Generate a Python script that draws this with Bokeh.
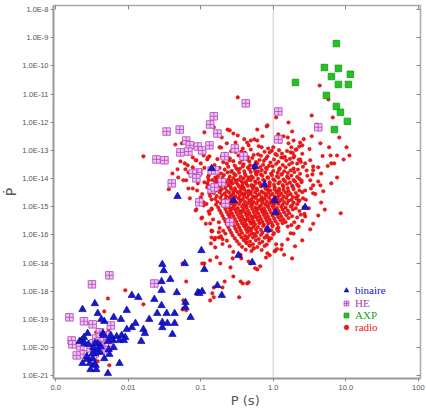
import numpy as np
from bokeh.plotting import figure
from bokeh.models import (FixedTicker, LogAxis, Span, Legend, LegendItem,
                          ColumnDataSource, Range1d, CustomJSTickFormatter)
from bokeh.embed import file_html
from bokeh.resources import INLINE

# ---------------- data: (log10 P [s], log10 Pdot) ----------------
axp_pts = [(0.87, -9.21), (0.705, -10.06), (0.898, -10.09), (1.063, -10.30), (0.802, -10.38),
           (0.306, -10.59), (0.898, -10.66), (1.036, -10.66), (0.733, -11.05), (0.870, -11.44),
           (0.926, -11.65), (1.022, -11.97), (0.843, -12.26)]

he_pts = [(-1.47, -12.33), (-1.29, -12.26), (-1.20, -12.65), (-1.15, -12.82), (-1.28, -13.07),
          (-1.17, -13.04), (-1.04, -12.86), (-0.98, -13.00), (-0.88, -12.82), (-0.87, -12.08),
          (-0.82, -11.79), (-1.61, -13.32), (-1.50, -13.35), (-1.04, -13.78), (-1.11, -13.82),
          (-1.40, -14.17), (-1.02, -14.84), (-0.85, -13.71), (-0.77, -12.40), (-0.53, -12.93),
          (-0.41, -13.21), (-1.06, -13.99), (-0.71, -14.13), (-0.85, -14.38), (-0.66, -14.88),
          (-0.60, -15.55), (0.07, -11.62), (0.07, -12.61), (-0.38, -11.33), (0.62, -12.18),
          (-0.81, -14.31), (-0.67, -13.21), (-0.80, -13.71),
          (-2.26, -17.43), (-2.50, -17.75), (-1.64, -17.72), (-2.81, -18.92), (-2.61, -19.06),
          (-2.49, -19.17), (-2.24, -19.21), (-2.78, -19.74), (-2.77, -19.88), (-2.71, -20.27),
          (-2.66, -19.95), (-2.61, -20.23), (-2.52, -20.02), (-2.48, -19.84), (-2.39, -19.45),
          (-2.44, -19.67), (-2.38, -19.77), (-2.31, -19.70), (-2.28, -19.84), (-2.35, -20.06),
          (-2.46, -20.20), (-2.49, -20.41), (-2.30, -19.56), (-2.27, -19.95), (-2.39, -19.63)]

binaire_pts = [(-1.32, -14.63), (-0.85, -13.64), (-0.25, -13.57), (-0.12, -14.21), (0.02, -14.77),
               (0.03, -15.20), (-0.08, -15.80), (-0.55, -14.77), (0.44, -15.02), (-0.48, -16.72),
               (-0.29, -16.97), (-0.77, -17.79), (-0.71, -18.14), (-0.99, -16.55), (-1.22, -17.01),
               (-0.95, -17.22), (-1.04, -18.04), (-1.02, -18.07), (-0.98, -18.00), (-1.21, -18.39),
               (-1.21, -18.57), (-1.14, -18.92), (-1.53, -17.04), (-1.51, -17.26), (-1.42, -17.57),
               (-1.54, -17.65), (-1.54, -17.96), (-1.33, -18.04), (-1.64, -18.28), (-1.54, -18.50),
               (-1.47, -18.78), (-1.36, -18.78), (-1.60, -18.78), (-1.71, -18.99), (-1.53, -19.10),
               (-1.46, -19.13), (-1.36, -19.13), (-1.53, -19.28), (-1.39, -19.52), (-1.95, -18.14),
               (-1.86, -18.21), (-2.02, -18.67), (-2.20, -18.92), (-2.10, -18.99), (-2.02, -19.35),
               (-1.95, -19.28), (-1.82, -19.77), (-1.79, -19.35), (-1.77, -19.49), (-1.90, -19.13),
               (-2.46, -18.43), (-2.63, -18.64), (-2.42, -18.78), (-2.33, -19.06), (-2.37, -18.99),
               (-2.56, -19.49), (-2.64, -19.74), (-2.67, -19.77), (-2.61, -19.63), (-2.48, -19.99),
               (-2.46, -20.59), (-2.52, -20.77), (-2.28, -20.91), (-2.12, -20.55), (-2.33, -20.38),
               (-2.26, -20.23), (-2.21, -19.74), (-2.16, -19.60), (-2.09, -19.56), (-2.04, -19.63),
               (-2.35, -19.49), (-2.34, -19.56), (-2.23, -19.70), (-2.28, -19.77), (-2.38, -19.95),
               (-2.42, -20.06), (-2.39, -20.16), (-2.27, -20.06), (-2.20, -19.99), (-2.12, -19.74),
               (-2.46, -20.20), (-2.49, -20.38), (-2.57, -20.41), (-2.53, -20.55), (-2.45, -20.62),
               (-2.63, -20.55), (-2.44, -20.77), (-2.60, -19.84), (-2.55, -19.88), (-2.42, -19.84),
               (-2.46, -19.84), (-2.57, -20.31), (-2.49, -20.20), (-2.24, -19.56), (-2.06, -19.74)]

radio_pts = [
    # scattered, low left and middle
    (-2.04, -17.96), (-2.28, -18.25), (-1.79, -18.46), (-2.33, -18.71), (-2.57, -19.13),
    (-2.27, -19.35), (-2.42, -20.20), (-2.44, -19.45), (-2.26, -20.62), (-1.54, -19.13),
    (-1.24, -18.60), (-1.25, -17.01), (-1.20, -17.65), (-1.24, -18.32), (-1.06, -15.09),
    (-0.99, -15.41), (-0.85, -15.84), (-0.85, -16.09), (-0.84, -18.07), (-0.82, -18.21),
    (-0.95, -17.01), (-0.85, -15.06), (-0.89, -15.16), (-1.25, -18.64), (-2.71, -19.95),
    (-2.46, -20.26), (-2.42, -20.48), (-1.20, -18.67), (-0.87, -18.32), (-0.47, -18.21),
    (-0.82, -17.86), (-0.70, -17.86), (-0.55, -17.47), (-0.45, -17.65), (-0.36, -17.72),
    (-0.67, -17.65), (-0.87, -16.90), (-0.98, -17.01), (-0.85, -15.87), (-0.98, -15.38),
    (-0.96, -14.95), (-0.81, -16.16), (-0.80, -16.44), (-0.78, -16.79), (-0.73, -17.01),
    (-0.59, -17.15), (-0.56, -16.83), (-0.44, -16.83), (-0.34, -16.94), (-0.22, -17.22),
    (-0.18, -17.11), (-0.08, -16.65), (-0.07, -16.09), (0.03, -16.55), (0.93, -15.23),
    (0.62, -15.31), (0.51, -15.80), (0.40, -16.19), (0.26, -16.83), (0.35, -15.70),
    (0.44, -15.34), (0.24, -15.94), (0.20, -15.70), (0.07, -15.87), (0.11, -16.51),
    (-0.34, -17.68), (-0.42, -17.72), (-0.31, -17.01), (-0.25, -17.18), (-0.05, -16.72),
    (0.02, -16.58), (0.04, -16.33),
    # scattered, upper right
    (-0.49, -11.12), (0.64, -10.70), (0.76, -11.19), (0.53, -11.76), (0.21, -12.01),
    (-0.09, -12.15), (-0.22, -12.26), (0.04, -11.83), (0.26, -12.33), (0.82, -11.83),
    (0.53, -12.50), (0.65, -12.75), (0.77, -12.89), (1.01, -12.89), (0.88, -13.18),
    (0.79, -13.18), (0.80, -13.46), (1.05, -13.18), (0.97, -13.32), (0.84, -13.46),
    (0.88, -13.96), (0.80, -14.17), (0.69, -14.45), (0.62, -13.60), (0.55, -13.57),
    (0.44, -13.46), (0.51, -13.35), (0.37, -12.72), (0.36, -12.86), (0.32, -12.96),
    (0.25, -12.89), (0.24, -13.07), (0.20, -12.54), (0.14, -12.50), (0.07, -12.43),
    (0.21, -12.75), (0.28, -12.65), (-0.15, -12.50), (-0.26, -12.61), (-0.31, -12.65),
    (-0.34, -12.82), (-0.42, -12.93), (-0.49, -12.47), (-0.55, -12.40), (-0.63, -12.26),
    (-0.71, -12.54), (-0.74, -12.89), (-0.64, -12.75), (-0.52, -12.72), (-0.16, -12.89),
    (-0.07, -12.93), (0.00, -12.89), (0.28, -13.25), (0.37, -13.32), (0.46, -13.71),
    (0.54, -13.85), (0.66, -13.82), (0.51, -14.06), (0.39, -14.13), (0.55, -14.24),
    (0.65, -14.24), (0.44, -14.42), (0.55, -14.52), (0.32, -14.67), (0.36, -14.77),
    (0.91, -12.54), (0.60, -12.08), (0.40, -12.82),
    # scattered, upper left
    (-1.79, -13.21), (-1.35, -12.79), (-1.26, -12.75), (-0.95, -12.36), (-1.44, -14.38),
    (-1.20, -14.06), (-1.18, -13.53), (-1.11, -13.25), (-1.06, -13.35), (-1.00, -13.46),
    (-0.96, -13.18), (-0.91, -13.32), (-0.88, -13.21), (-1.28, -13.39), (-1.21, -13.67),
    (-1.17, -13.78), (-1.00, -13.82), (-0.95, -14.13), (-0.91, -14.31), (-0.88, -14.52),
    (-1.00, -14.67), (-0.96, -14.84), (-0.85, -14.74), (-1.11, -14.35), (-0.89, -14.06),
    (-1.39, -13.82), (-0.82, -12.18), (-0.60, -12.29), (-0.36, -12.72), (-0.22, -12.65),
    (-0.08, -12.11), (-1.32, -13.67), (-1.31, -13.96), (-1.22, -13.46), (-1.07, -13.35),
    (-1.07, -15.13), (-0.87, -15.59), (-0.84, -15.87), (-0.75, -16.09), (-0.75, -15.55),
    (-0.89, -13.89), (-0.80, -13.96), (-0.77, -14.13), (-0.73, -14.42), (-0.91, -14.17),
    (-1.04, -14.17), (-1.24, -14.06), (-1.17, -14.35), (-1.00, -13.71), (-1.11, -13.60),
    # halo around the main cloud
    (-0.95, -13.62), (-0.90, -14.25), (-0.98, -14.55), (-0.92, -14.90), (-1.05, -14.42),
    (-0.88, -15.25), (-0.93, -15.60), (-0.86, -16.30), (-0.90, -13.95), (-1.12, -13.88),
    (-1.15, -14.70), (-0.84, -14.05), (-0.87, -14.62), (-0.85, -15.10), (-0.83, -15.45),
    (0.47, -13.90), (0.52, -14.35), (0.45, -14.75), (0.58, -14.55), (0.49, -15.05),
    (0.43, -15.25), (0.62, -14.10), (0.55, -13.70), (0.66, -14.85), (0.71, -15.10),
    (0.40, -15.50), (0.33, -15.75), (0.28, -15.95), (0.20, -16.15), (0.12, -16.35),
    (0.05, -16.50), (-0.60, -16.40), (-0.55, -16.60), (-0.70, -16.15), (-0.75, -15.90),
    (0.75, -13.55), (0.68, -13.20), (0.50, -12.95), (0.42, -12.60), (-0.72, -12.90),
    (-0.90, -13.25), (-1.00, -13.05), (-0.20, -12.85), (0.10, -12.70), (-0.40, -12.60),
    (0.30, -16.40), (0.15, -16.70), (-0.10, -16.80), (-0.45, -16.70), (0.55, -15.60),
    (0.36, -15.15), (0.42, -15.02), (0.33, -15.38), (0.38, -15.28), (0.29, -15.55),
    (0.25, -15.65), (-0.66, -15.95), (-0.72, -16.05), (-0.64, -16.20), (-0.80, -16.10),
    (-0.69, -15.85), (-0.74, -15.75), (-0.70, -16.32),
    # dense core
    (-0.58, -13.03), (-0.31, -12.97), (-0.12, -13.05), (0.08, -12.99), (0.19, -13.02),
    (-0.44, -13.04), (0.31, -12.98), (-0.02, -13.01),
    (-0.66, -13.12), (-0.39, -13.08), (-0.21, -13.14), (-0.05, -13.07), (0.12, -13.11),
    (0.27, -13.09), (-0.52, -13.06), (0.03, -13.13), (0.40, -13.12),
    (-0.71, -13.22), (-0.48, -13.18), (-0.35, -13.24), (-0.17, -13.19), (-0.08, -13.21),
    (0.05, -13.17), (0.16, -13.23), (0.29, -13.20), (-0.27, -13.16), (0.11, -13.25),
    (-0.77, -13.31), (-0.60, -13.28), (-0.43, -13.33), (-0.29, -13.27), (-0.19, -13.34),
    (-0.10, -13.29), (0.01, -13.32), (0.14, -13.26), (0.23, -13.30), (0.35, -13.33),
    (-0.36, -13.31),
    (-0.69, -13.42), (-0.55, -13.38), (-0.46, -13.44), (-0.33, -13.39), (-0.24, -13.41),
    (-0.13, -13.37), (-0.04, -13.43), (0.07, -13.40), (0.18, -13.36), (0.26, -13.44),
    (0.38, -13.41), (-0.60, -13.36),
    (-0.81, -13.52), (-0.64, -13.47), (-0.53, -13.54), (-0.41, -13.49), (-0.32, -13.53),
    (-0.22, -13.46), (-0.14, -13.51), (-0.06, -13.55), (0.04, -13.48), (0.13, -13.52),
    (0.22, -13.50), (0.33, -13.47), (-0.27, -13.55),
    (-0.74, -13.62), (-0.62, -13.58), (-0.51, -13.63), (-0.42, -13.57), (-0.35, -13.61),
    (-0.26, -13.64), (-0.18, -13.59), (-0.10, -13.62), (-0.01, -13.56), (0.09, -13.63),
    (0.17, -13.60), (0.28, -13.64), (0.41, -13.58), (-0.46, -13.65),
    (-0.79, -13.71), (-0.67, -13.68), (-0.57, -13.73), (-0.49, -13.69), (-0.40, -13.74),
    (-0.33, -13.67), (-0.25, -13.72), (-0.16, -13.70), (-0.09, -13.66), (0.00, -13.73),
    (0.08, -13.69), (0.15, -13.74), (0.24, -13.71), (0.34, -13.68), (-0.21, -13.75),
    (-0.72, -13.82), (-0.63, -13.78), (-0.54, -13.83), (-0.47, -13.79), (-0.39, -13.84),
    (-0.31, -13.77), (-0.24, -13.81), (-0.17, -13.85), (-0.11, -13.78), (-0.03, -13.82),
    (0.06, -13.79), (0.12, -13.84), (0.20, -13.80), (0.29, -13.77), (0.37, -13.83),
    (-0.58, -13.76),
    (-0.76, -13.91), (-0.68, -13.87), (-0.60, -13.93), (-0.52, -13.88), (-0.45, -13.94),
    (-0.38, -13.89), (-0.30, -13.92), (-0.23, -13.86), (-0.15, -13.90), (-0.08, -13.95),
    (-0.02, -13.88), (0.05, -13.92), (0.11, -13.86), (0.19, -13.93), (0.25, -13.89),
    (0.33, -13.94), (-0.34, -13.96),
    (-0.78, -14.02), (-0.70, -13.97), (-0.62, -14.03), (-0.55, -13.98), (-0.48, -14.04),
    (-0.41, -13.99), (-0.35, -14.05), (-0.28, -13.97), (-0.21, -14.01), (-0.14, -14.04),
    (-0.07, -13.98), (0.00, -14.02), (0.07, -13.96), (0.14, -14.03), (0.21, -13.99),
    (0.28, -14.05), (0.36, -14.01), (-0.52, -14.06),
    (-0.80, -14.11), (-0.72, -14.07), (-0.65, -14.13), (-0.58, -14.08), (-0.51, -14.14),
    (-0.44, -14.09), (-0.38, -14.12), (-0.31, -14.06), (-0.25, -14.10), (-0.19, -14.15),
    (-0.12, -14.08), (-0.05, -14.13), (0.02, -14.07), (0.09, -14.12), (0.16, -14.09),
    (0.23, -14.14), (0.30, -14.10), (0.39, -14.07), (-0.42, -14.16),
    (-0.77, -14.22), (-0.69, -14.18), (-0.62, -14.24), (-0.56, -14.17), (-0.49, -14.21),
    (-0.43, -14.25), (-0.37, -14.19), (-0.30, -14.23), (-0.24, -14.16), (-0.18, -14.20),
    (-0.11, -14.24), (-0.05, -14.18), (0.01, -14.22), (0.07, -14.17), (0.13, -14.23),
    (0.19, -14.19), (0.26, -14.25), (0.33, -14.21), (-0.27, -14.26), (-0.60, -14.15),
    (-0.81, -14.31), (-0.73, -14.27), (-0.66, -14.33), (-0.59, -14.28), (-0.53, -14.34),
    (-0.47, -14.29), (-0.41, -14.32), (-0.35, -14.26), (-0.29, -14.30), (-0.23, -14.35),
    (-0.17, -14.28), (-0.11, -14.33), (-0.05, -14.27), (0.02, -14.31), (0.08, -14.36),
    (0.14, -14.29), (0.20, -14.34), (0.27, -14.30), (0.35, -14.27), (-0.44, -14.36),
    (-0.08, -14.37),
    (-0.79, -14.42), (-0.71, -14.38), (-0.64, -14.44), (-0.58, -14.37), (-0.52, -14.41),
    (-0.46, -14.45), (-0.40, -14.39), (-0.34, -14.43), (-0.28, -14.37), (-0.22, -14.41),
    (-0.16, -14.46), (-0.10, -14.38), (-0.04, -14.42), (0.02, -14.39), (0.08, -14.44),
    (0.14, -14.40), (0.21, -14.45), (0.28, -14.38), (0.36, -14.42), (-0.31, -14.47),
    (-0.55, -14.47), (0.05, -14.47),
    (-0.82, -14.51), (-0.74, -14.48), (-0.67, -14.53), (-0.61, -14.49), (-0.55, -14.54),
    (-0.49, -14.50), (-0.43, -14.52), (-0.37, -14.48), (-0.31, -14.53), (-0.25, -14.49),
    (-0.19, -14.55), (-0.13, -14.51), (-0.07, -14.48), (-0.01, -14.54), (0.05, -14.50),
    (0.11, -14.53), (0.17, -14.49), (0.24, -14.55), (0.31, -14.51), (0.40, -14.48),
    (-0.40, -14.56), (-0.10, -14.57),
    (-0.78, -14.62), (-0.71, -14.58), (-0.65, -14.63), (-0.58, -14.59), (-0.52, -14.64),
    (-0.46, -14.60), (-0.40, -14.62), (-0.34, -14.58), (-0.28, -14.63), (-0.22, -14.59),
    (-0.16, -14.65), (-0.10, -14.61), (-0.04, -14.58), (0.02, -14.64), (0.08, -14.60),
    (0.14, -14.63), (0.20, -14.59), (0.27, -14.65), (0.34, -14.61), (-0.60, -14.66),
    (-0.25, -14.67), (0.05, -14.67),
    (-0.80, -14.72), (-0.73, -14.68), (-0.66, -14.73), (-0.60, -14.69), (-0.54, -14.74),
    (-0.48, -14.70), (-0.42, -14.72), (-0.36, -14.68), (-0.30, -14.73), (-0.24, -14.69),
    (-0.18, -14.75), (-0.12, -14.71), (-0.06, -14.68), (0.00, -14.74), (0.06, -14.70),
    (0.12, -14.73), (0.18, -14.69), (0.25, -14.75), (0.32, -14.71), (0.41, -14.70),
    (-0.45, -14.77), (-0.15, -14.77),
    (-0.77, -14.82), (-0.70, -14.78), (-0.63, -14.83), (-0.57, -14.79), (-0.51, -14.84),
    (-0.45, -14.80), (-0.39, -14.82), (-0.33, -14.78), (-0.27, -14.83), (-0.21, -14.79),
    (-0.15, -14.85), (-0.09, -14.81), (-0.03, -14.78), (0.03, -14.84), (0.09, -14.80),
    (0.15, -14.83), (0.21, -14.79), (0.28, -14.85), (0.35, -14.81), (-0.55, -14.87),
    (-0.30, -14.87), (0.00, -14.88),
    (-0.79, -14.92), (-0.72, -14.88), (-0.65, -14.93), (-0.59, -14.89), (-0.53, -14.94),
    (-0.47, -14.90), (-0.41, -14.92), (-0.35, -14.88), (-0.29, -14.93), (-0.23, -14.89),
    (-0.17, -14.95), (-0.11, -14.91), (-0.05, -14.88), (0.01, -14.94), (0.07, -14.90),
    (0.13, -14.93), (0.19, -14.89), (0.26, -14.95), (0.33, -14.91), (-0.38, -14.97),
    (-0.08, -14.97),
    (-0.76, -15.02), (-0.68, -14.98), (-0.61, -15.03), (-0.55, -14.99), (-0.49, -15.04),
    (-0.43, -15.00), (-0.37, -15.02), (-0.31, -14.98), (-0.25, -15.03), (-0.19, -14.99),
    (-0.13, -15.05), (-0.07, -15.01), (-0.01, -14.98), (0.05, -15.04), (0.11, -15.00),
    (0.17, -15.03), (0.24, -14.99), (0.31, -15.05), (-0.58, -15.07), (-0.22, -15.07),
    (-0.74, -15.12), (-0.66, -15.08), (-0.59, -15.13), (-0.53, -15.09), (-0.47, -15.14),
    (-0.41, -15.10), (-0.35, -15.12), (-0.29, -15.08), (-0.23, -15.13), (-0.17, -15.09),
    (-0.11, -15.15), (-0.05, -15.11), (0.01, -15.08), (0.07, -15.14), (0.13, -15.10),
    (0.20, -15.13), (0.27, -15.09), (-0.44, -15.17), (-0.14, -15.17),
    (-0.72, -15.22), (-0.64, -15.18), (-0.57, -15.23), (-0.51, -15.19), (-0.45, -15.24),
    (-0.39, -15.20), (-0.33, -15.22), (-0.27, -15.18), (-0.21, -15.23), (-0.15, -15.19),
    (-0.09, -15.25), (-0.03, -15.21), (0.03, -15.18), (0.09, -15.24), (0.15, -15.20),
    (0.22, -15.23), (-0.36, -15.27), (-0.60, -15.27),
    (-0.70, -15.32), (-0.62, -15.28), (-0.55, -15.33), (-0.49, -15.29), (-0.43, -15.34),
    (-0.37, -15.30), (-0.31, -15.32), (-0.25, -15.28), (-0.19, -15.33), (-0.13, -15.29),
    (-0.07, -15.35), (-0.01, -15.31), (0.05, -15.28), (0.11, -15.34), (0.18, -15.30),
    (0.26, -15.33), (-0.28, -15.37),
    (-0.68, -15.42), (-0.60, -15.38), (-0.53, -15.43), (-0.47, -15.39), (-0.41, -15.44),
    (-0.35, -15.40), (-0.29, -15.42), (-0.23, -15.38), (-0.17, -15.43), (-0.11, -15.39),
    (-0.05, -15.45), (0.01, -15.41), (0.07, -15.38), (0.14, -15.44), (0.21, -15.40),
    (-0.38, -15.47),
    (-0.66, -15.52), (-0.58, -15.48), (-0.51, -15.53), (-0.45, -15.49), (-0.39, -15.54),
    (-0.33, -15.50), (-0.27, -15.52), (-0.21, -15.48), (-0.15, -15.53), (-0.09, -15.49),
    (-0.03, -15.55), (0.03, -15.51), (0.10, -15.48), (0.17, -15.54), (-0.30, -15.57),
    (-0.64, -15.62), (-0.56, -15.58), (-0.49, -15.63), (-0.43, -15.59), (-0.37, -15.64),
    (-0.31, -15.60), (-0.25, -15.62), (-0.19, -15.58), (-0.13, -15.63), (-0.07, -15.59),
    (-0.01, -15.65), (0.06, -15.61), (0.13, -15.58), (-0.40, -15.67),
    (-0.62, -15.72), (-0.54, -15.68), (-0.47, -15.73), (-0.40, -15.69), (-0.34, -15.74),
    (-0.27, -15.70), (-0.21, -15.72), (-0.14, -15.68), (-0.08, -15.73), (-0.01, -15.69),
    (0.07, -15.74), (-0.30, -15.77),
    (-0.60, -15.82), (-0.52, -15.78), (-0.45, -15.83), (-0.38, -15.79), (-0.31, -15.84),
    (-0.24, -15.80), (-0.17, -15.82), (-0.10, -15.78), (-0.03, -15.83), (0.05, -15.79),
    (-0.35, -15.87),
    (-0.58, -15.92), (-0.50, -15.88), (-0.43, -15.93), (-0.36, -15.89), (-0.29, -15.94),
    (-0.22, -15.90), (-0.15, -15.92), (-0.07, -15.88), (0.01, -15.93), (-0.26, -15.97),
    (-0.56, -16.02), (-0.47, -15.98), (-0.39, -16.03), (-0.32, -15.99), (-0.24, -16.04),
    (-0.17, -16.00), (-0.09, -16.02), (0.00, -15.98), (-0.35, -16.07),
    (-0.53, -16.12), (-0.44, -16.08), (-0.36, -16.13), (-0.28, -16.09), (-0.20, -16.14),
    (-0.12, -16.10), (-0.03, -16.12), (-0.40, -16.17),
    (-0.50, -16.22), (-0.41, -16.18), (-0.32, -16.23), (-0.24, -16.19), (-0.15, -16.24),
    (-0.06, -16.20), (-0.37, -16.27),
    (-0.47, -16.32), (-0.37, -16.28), (-0.28, -16.33), (-0.19, -16.29), (-0.09, -16.34),
    (-0.33, -16.37),
    (-0.43, -16.42), (-0.32, -16.38), (-0.22, -16.43), (-0.12, -16.39), (-0.27, -16.47),
    (-0.38, -16.52), (-0.27, -16.48), (-0.16, -16.53), (-0.30, -16.57),
]

# tick labels keyed by decade exponent
x_ticks = [1e-3, 1e-2, 1e-1, 1.0, 10.0, 100.0]
x_tick_labels = {"-3": "0.0", "-2": "0.01", "-1": "0.1", "0": "1.0", "1": "10.0", "2": "100"}
y_ticks = [10.0 ** e for e in range(-21, -7)]
y_tick_labels = {"-21": "1.0E-21", "-20": "1.0E-20", "-19": "1.0E-19", "-18": "1.0E-18",
                 "-17": "1.0E-18", "-16": "1.0E-16", "-15": "1.0E-15", "-14": "1.0E-14",
                 "-13": "1.0E-13", "-12": "1.0E-12", "-11": "1.0E-11", "-10": "1.0E-10",
                 "-9": "1.0E-9", "-8": "1.0E-8"}


def src(pts):
    a = np.array(pts, dtype=float)
    return ColumnDataSource(dict(P=10.0 ** a[:, 0], Pdot=10.0 ** a[:, 1]))


def fmt(labels):
    return CustomJSTickFormatter(args=dict(labels=labels), code="""
        const e = String(Math.round(Math.log10(tick)));
        const v = (labels instanceof Map) ? labels.get(e) : labels[e];
        return v == null ? "" : v;
    """)


TICK_FONT = "Liberation Sans"

p = figure(width=426, height=412, x_axis_type="log", y_axis_type="log",
           x_range=Range1d(10 ** -3.03, 10 ** 2.03), y_range=Range1d(10 ** -21.09, 10 ** -7.86),
           output_backend="svg", toolbar_location=None,
           min_border_left=53, min_border_right=6, min_border_top=5, min_border_bottom=34)
p.xgrid.visible = False
p.ygrid.visible = False
p.outline_line_color = None
p.background_fill_color = "white"

for ax, ticks, labels in ((p.xaxis[0], x_ticks, x_tick_labels), (p.yaxis[0], y_ticks, y_tick_labels)):
    ax.ticker = FixedTicker(ticks=ticks, minor_ticks=[])
    ax.formatter = fmt(labels)
    ax.axis_line_color = "#999999"
    ax.axis_line_width = 2
    ax.major_tick_line_color = "#888888"
    ax.major_tick_in = 0
    ax.major_tick_out = 3
    ax.minor_tick_line_color = None
    ax.major_label_text_font = TICK_FONT
    ax.major_label_text_font_size = "7.5px"
    ax.major_label_text_color = "#555555"
    ax.major_label_standoff = 3

p.yaxis[0].major_label_standoff = 2
p.yaxis[0].axis_label = "\u1E56"
p.yaxis[0].axis_label_text_font = "DejaVu Sans"
p.yaxis[0].axis_label_text_font_size = "14px"
p.yaxis[0].axis_label_text_font_style = "normal"
p.yaxis[0].axis_label_text_color = "#555555"
p.yaxis[0].axis_label_standoff = 0

p.xaxis[0].axis_label = "\u00a0\u00a0\u00a0\u00a0P (s)"
p.xaxis[0].axis_label_text_font = "DejaVu Sans"
p.xaxis[0].axis_label_text_font_size = "13px"
p.xaxis[0].axis_label_text_font_style = "normal"
p.xaxis[0].axis_label_text_color = "#555555"
p.xaxis[0].axis_label_standoff = 0

for side, ticks in (("above", x_ticks), ("right", y_ticks)):
    ax = LogAxis(ticker=FixedTicker(ticks=ticks, minor_ticks=[]),
                 major_tick_in=4, major_tick_out=0, minor_tick_line_color=None,
                 major_label_text_font_size="1px", major_label_text_alpha=0,
                 major_label_standoff=0,
                 axis_line_color="#aaaaaa", axis_line_width=1.5,
                 major_tick_line_color="#888888")
    p.add_layout(ax, side)

p.add_layout(Span(location=1.0, dimension="height", line_color="#dddddd",
                  line_width=1.5, level="underlay"))

r_radio = p.scatter("P", "Pdot", source=src(radio_pts), marker="circle", size=3.6,
                    fill_color="#ee1a1a", line_color="#d00000", line_width=0.4)
r_he = p.scatter("P", "Pdot", source=src(he_pts), marker="square_cross", size=7.5,
                 fill_color="#f2c4f2", line_color="#b452c4", line_width=0.9)
r_bin = p.scatter("P", "Pdot", source=src(binaire_pts), marker="triangle", size=7.5,
                  fill_color="#1818cc", line_color="#0000a8", line_width=0.6)
r_axp = p.scatter("P", "Pdot", source=src(axp_pts), marker="square", size=6.5,
                  fill_color="#22c322", line_color="#119a11", line_width=0.8)

legend_rows = [("binaire", r_bin, "#2020c0", 290), ("HE", r_he, "#a040a8", 303),
               ("AXP", r_axp, "#22a022", 315), ("radio", r_radio, "#e01818", 327)]
for name, rend, col, cy in legend_rows:
    leg = Legend(items=[LegendItem(label=name, renderers=[rend])],
                 location=(287, 372 - cy), padding=0, margin=0, spacing=0,
                 border_line_color=None, background_fill_alpha=0,
                 glyph_width=12, glyph_height=12, label_height=11, label_standoff=3,
                 label_text_font="Liberation Serif", label_text_font_size="11px",
                 label_text_color=col)
    p.add_layout(leg, "center")

open("out.html", "w").write(file_html(p, INLINE))
